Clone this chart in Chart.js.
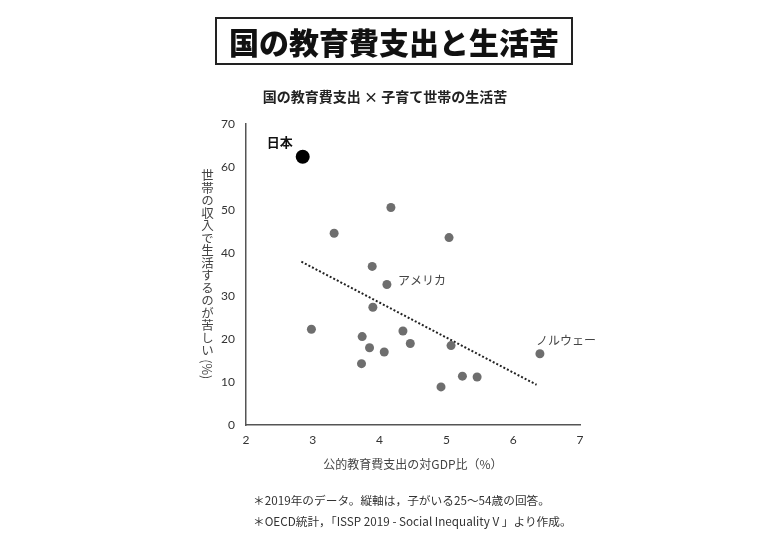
<!DOCTYPE html>
<html>
<head>
<meta charset="utf-8">
<script src="https://cdn.jsdelivr.net/npm/chart.js@4"></script>
<style>
  body { margin: 0; background: #fff; font-family: "Noto Sans CJK JP", sans-serif; }
  #wrap { position: relative; width: 780px; height: 540px; }
  #title {
    position: absolute; left: 215px; top: 17px; width: 354px; height: 44px;
    border: 2px solid #222; text-align: center; line-height: 44px; white-space: nowrap;
    font-size: 30px; font-weight: 900; color: #111;
  }
  #sub {
    position: absolute; left: 0; width: 770px; top: 86px; text-align: center;
    font-size: 14px; font-weight: 700; color: #222;
  }
  #ytitle {
    position: absolute; left: 198px; top: 169px; writing-mode: vertical-rl;
    font-size: 12.5px; color: #444; white-space: nowrap;
  }
  .note { position: absolute; left: 253px; font-size: 11.7px; color: #333; white-space: nowrap; }
  canvas { position: absolute; left: 0; top: 0; }
</style>
</head>
<body>
<div id="wrap">
  <canvas id="myChart" width="780" height="540"></canvas>
  <div id="title">国の教育費支出と生活苦</div>
  <div id="sub">国の教育費支出 × 子育て世帯の生活苦</div>
  <div id="ytitle">世帯の収入で生活するのが苦しい (%)</div>
  <div class="note" style="top:491px">＊2019年のデータ。縦軸は，子がいる25～54歳の回答。</div>
  <div class="note" style="top:512px">＊OECD統計，「ISSP 2019 - Social Inequality V 」より作成。</div>
</div>
<script>
// public education spending (% of GDP) vs. share finding it hard to live on income
const eduSpend = [3.32, 4.17, 5.04, 3.89, 4.11, 3.90, 2.98, 3.74, 4.35, 3.85, 4.46, 4.07, 5.07, 3.73, 6.40, 5.24, 5.46, 4.92];
const hardship = [44.6, 50.6, 43.6, 36.9, 32.7, 27.4, 22.3, 20.6, 21.9, 18.0, 19.0, 17.0, 18.5, 14.3, 16.6, 11.4, 11.2, 8.9];
const japanX = [2.85];
const japanY = [62.4];
const trendX = [2.83, 6.35];
const trendY = [38.0, 9.4];
const xTicks = [2, 3, 4, 5, 6, 7];
const yTicks = [0, 10, 20, 30, 40, 50, 60, 70];

// labelled countries: [name, x, y]
const named = [
    ['日本', japanX[0], japanY[0]],
    ['アメリカ', eduSpend[4], hardship[4]],
    ['ノルウェー', eduSpend[14], hardship[14]]
];

const pointLabels = {
    id: 'pointLabels',
    afterDatasetsDraw(chart) {
        const c = chart.ctx;
        const xs = chart.scales.x, ys = chart.scales.y;
        c.save();
        c.textBaseline = 'middle';
        named.forEach(function(n, i) {
            const px = xs.getPixelForValue(n[1]);
            const py = ys.getPixelForValue(n[2]);
            if (i == 0) {
                c.font = 'bold 13px "Noto Sans CJK JP"';
                c.fillStyle = '#111';
                c.textAlign = 'center';
                c.fillText(n[0], px - 23, py - 15);
            } else if (i == 1) {
                c.font = '12px "Noto Sans CJK JP"';
                c.fillStyle = '#444';
                c.textAlign = 'left';
                c.fillText(n[0], px + 11, py - 4);
            } else {
                c.font = '12px "Noto Sans CJK JP"';
                c.fillStyle = '#444';
                c.textAlign = 'left';
                c.fillText(n[0], px - 4, py - 13);
            }
        });
        c.restore();
    }
};

const toPts = (xs, ys) => xs.map((x, i) => ({x: x, y: ys[i]}));

const ctx = document.getElementById('myChart');
const myChart = new Chart(ctx, {
    type: 'scatter',
    data: {
        datasets: [
            {
                data: toPts(japanX, japanY),
                backgroundColor: '#000',
                pointRadius: 7,
                pointBorderWidth: 0
            },
            {
                data: toPts(eduSpend, hardship),
                backgroundColor: '#6e6e6e',
                pointRadius: 4.5,
                pointBorderWidth: 0
            },
            {
                type: 'line',
                data: toPts(trendX, trendY),
                borderColor: '#222',
                borderWidth: 2,
                borderDash: [2, 2],
                pointRadius: 0,
                fill: false
            }
        ]
    },
    options: {
        responsive: false,
        animation: false,
        events: [],
        layout: { padding: { left: 210, right: 200, top: 124, bottom: 64 } },
        plugins: { legend: { display: false }, tooltip: { enabled: false } },
        scales: {
            x: {
                type: 'linear', min: 2, max: 7,
                afterBuildTicks: s => { s.ticks = xTicks.map(v => ({value: v})); },
                grid: { color: 'rgba(0,0,0,0)', drawTicks: false },
                border: { display: true, color: '#555', width: 1.5 },
                ticks: { padding: 8, color: '#333', font: { family: 'Lato', size: 12 } },
                title: {
                    display: true, text: '公的教育費支出の対GDP比（%）', color: '#444',
                    font: { family: 'Noto Sans CJK JP', size: 12 }, padding: { top: 2 }
                }
            },
            y: {
                type: 'linear', min: 0, max: 70,
                afterBuildTicks: s => { s.ticks = yTicks.map(v => ({value: v})); },
                grid: { color: 'rgba(0,0,0,0)', drawTicks: false },
                border: { display: true, color: '#555', width: 1.5 },
                ticks: { padding: 11, color: '#333', font: { family: 'Lato', size: 12 } }
            }
        }
    },
    plugins: [pointLabels]
});
</script>
</body>
</html>
